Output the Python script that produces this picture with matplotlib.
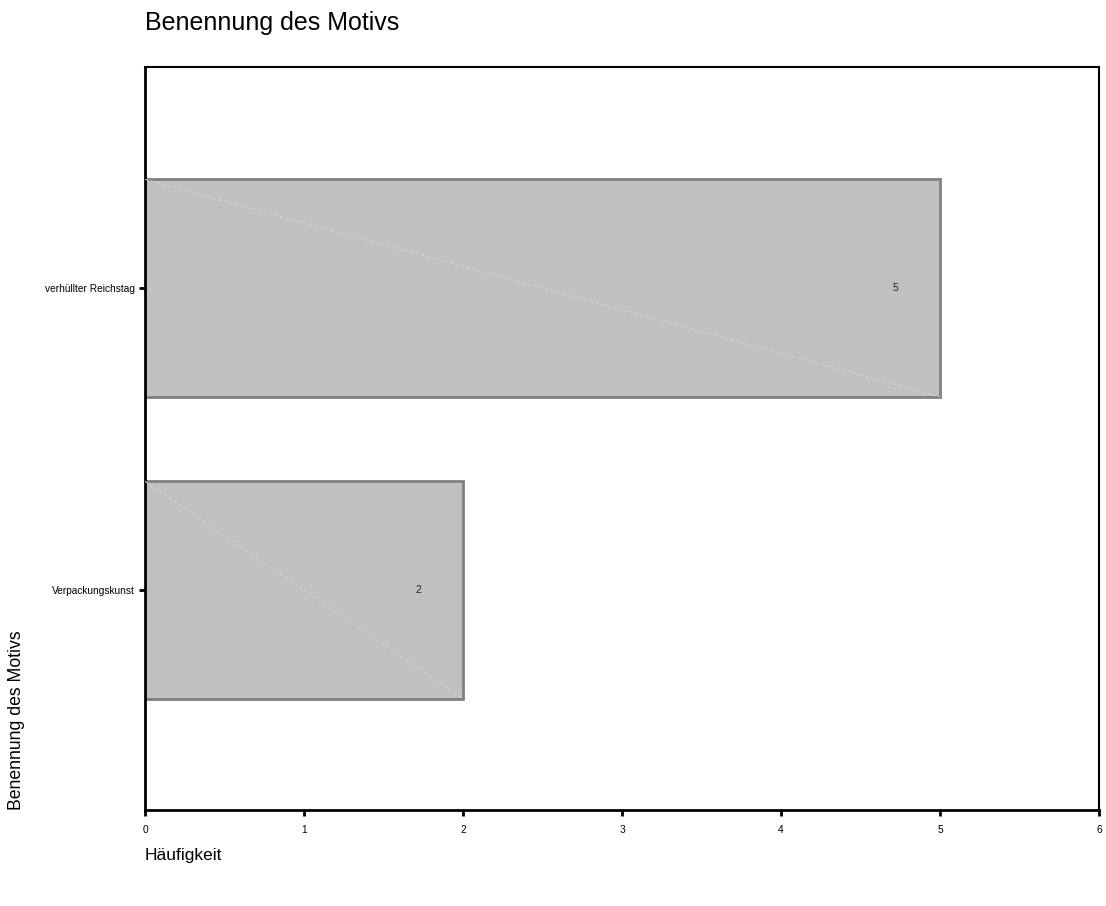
import matplotlib.pyplot as plt

plt.rcParams['font.family'] = ['Liberation Sans', 'DejaVu Sans']

categories = ["Verpackungskunst", "verhüllter Reichstag"]
counts = [2, 5]
x_ticks = [0, 1, 2, 3, 4, 5, 6]


def main():
    fig = plt.figure(figsize=(11.06, 9.06), dpi=100)
    ax = fig.add_axes([0.1311, 0.106, 0.8626, 0.820])

    pos = list(range(len(categories)))
    bar_h = 0.72
    ax.barh(pos, counts, height=bar_h, color="#c0c0c0",
            edgecolor="#808080", linewidth=2, zorder=2)

    # diagonal line across each bar, plus value label
    for p, c in zip(pos, counts):
        ax.plot([0, c], [p + bar_h / 2, p - bar_h / 2], color="#d4d4d4",
                linewidth=0.7, linestyle=(0, (4, 2)), zorder=3)
        ax.text(c - 0.28, p, str(c), ha="center", va="center",
                fontsize=7.5, color="#222222", zorder=4)

    ax.set_xlim(0, 6)
    ax.set_ylim(-0.728, 1.732)
    ax.set_xticks(x_ticks)
    ax.set_xticklabels([str(t) for t in x_ticks], fontsize=7.3)
    ax.set_yticks(pos)
    ax.set_yticklabels(categories, fontsize=7.3)
    ax.tick_params(axis="both", direction="out", length=4, width=2,
                   color="black")
    ax.tick_params(axis="y", pad=3)
    ax.tick_params(axis="x", pad=6.5)

    for side in ["left", "bottom"]:
        ax.spines[side].set_linewidth(2)
    for side in ["top", "right"]:
        ax.spines[side].set_linewidth(1.5)

    fig.text(0.1311, 0.9745, "Benennung des Motivs", fontsize=18,
             ha="left", va="center")
    fig.text(0.1311, 0.0555, "Häufigkeit", fontsize=12.5,
             ha="left", va="center")
    fig.text(0.0145, 0.106, "Benennung des Motivs", fontsize=12.7,
             rotation=90, ha="center", va="bottom")

    fig.savefig("out.png", dpi=100)


if __name__ == "__main__":
    main()
